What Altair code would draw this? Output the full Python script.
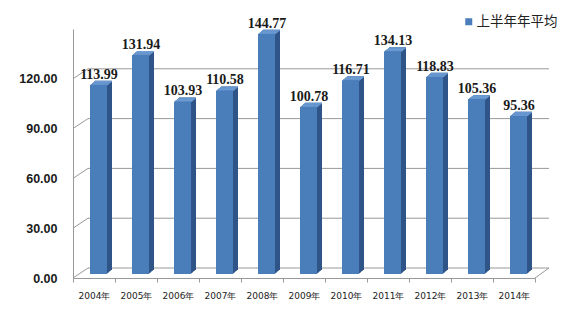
import altair as alt
import pandas as pd

years = ["2004年", "2005年", "2006年", "2007年", "2008年", "2009年",
         "2010年", "2011年", "2012年", "2013年", "2014年"]
values = [113.99, 131.94, 103.93, 110.58, 144.77, 100.78,
          116.71, 134.13, 118.83, 105.36, 95.36]
series_name = "上半年年平均"
y_ticks = [0, 30, 60, 90, 120]

df = pd.DataFrame({"year": years, "value": values, "series": series_name})
grid_df = pd.DataFrame({"value": y_ticks})
floor_df = pd.DataFrame({"value": [0]})

W, H = 462, 249
DEPTH_X, DEPTH_Y = 15, -10
BAR_DX, BAR_DY = 4.5, -4
BAR_W = 17
STEPS = 5
STEP_Y = 0.8

FRONT = "#4A7EBB"
SIDE = "#2F5488"
TOP = "#6D9CD4"
GRID = "#999999"

x_enc = alt.X(
    "year:N", sort=years,
    scale=alt.Scale(paddingInner=0, paddingOuter=0),
    axis=alt.Axis(title=None, labelAngle=0, tickBand="extent",
                  domainColor=GRID, tickColor=GRID, tickSize=4,
                  labelPadding=9, labelFont="DejaVu Sans",
                  labelFontSize=9, labelColor="#222222"),
)
y_scale = alt.Scale(domain=[0, 150], nice=False, zero=True)
y_axis = alt.Axis(title=None, values=y_ticks, format=".2f", grid=False,
                  domain=True, domainColor=GRID, ticks=False,
                  labelPadding=16, labelFont="Liberation Sans",
                  labelFontWeight="bold", labelFontSize=12.5,
                  labelColor="#1a1a1a")


def y_enc():
    return alt.Y("value:Q", scale=y_scale, axis=y_axis)


layers = []

# back wall gridlines
layers.append(
    alt.Chart(grid_df).mark_rule(color=GRID, strokeWidth=1,
                                 xOffset=DEPTH_X, x2Offset=DEPTH_X,
                                 yOffset=DEPTH_Y, y2Offset=DEPTH_Y)
    .encode(y=y_enc(), x=alt.value(0), x2=alt.value(W - DEPTH_X + 14))
)
# left wall connectors
layers.append(
    alt.Chart(grid_df).mark_rule(color=GRID, strokeWidth=1, y2Offset=DEPTH_Y)
    .encode(y=y_enc(), y2=alt.Y2("value:Q"), x=alt.value(0), x2=alt.value(DEPTH_X))
)
# right floor edge
layers.append(
    alt.Chart(floor_df).mark_rule(color=GRID, strokeWidth=1, y2Offset=DEPTH_Y)
    .encode(y=y_enc(), y2=alt.Y2("value:Q"), x=alt.value(W), x2=alt.value(W + 14))
)

# bar side (extrusion)
for k in range(STEPS, 0, -1):
    layers.append(
        alt.Chart(df).mark_bar(size=BAR_W, color=SIDE,
                               xOffset=BAR_DX + k, x2Offset=BAR_DX + k,
                               yOffset=BAR_DY - STEP_Y * k, y2Offset=BAR_DY - STEP_Y * k)
        .encode(x=x_enc, y=y_enc())
    )
# bar tops
for k in range(STEPS, 0, -1):
    layers.append(
        alt.Chart(df).mark_bar(size=BAR_W, color=TOP,
                               xOffset=BAR_DX + k, x2Offset=BAR_DX + k,
                               yOffset=BAR_DY - STEP_Y * k,
                               y2Offset=BAR_DY - STEP_Y * k + 1.2)
        .encode(x=x_enc, y=y_enc(), y2=alt.Y2("value:Q"))
    )
# bar front
layers.append(
    alt.Chart(df).mark_bar(size=BAR_W, xOffset=BAR_DX, x2Offset=BAR_DX,
                           yOffset=BAR_DY, y2Offset=BAR_DY)
    .encode(
        x=x_enc, y=y_enc(),
        color=alt.Color("series:N", scale=alt.Scale(range=[FRONT]),
                        legend=alt.Legend(title=None, orient="none",
                                          legendX=389, legendY=-14,
                                          symbolType="square", symbolSize=49,
                                          symbolStrokeWidth=0,
                                          labelFont="Noto Sans CJK SC",
                                          labelFontSize=13.5, labelColor="#222222",
                                          labelOffset=1, padding=0)),
    )
)
# value labels
layers.append(
    alt.Chart(df).mark_text(font="Liberation Serif", fontSize=14, fontWeight="bold",
                            color="#1a1a1a", baseline="alphabetic", dy=-10, dx=5)
    .encode(x=x_enc, y=y_enc(), text=alt.Text("value:Q", format=".2f"))
)

chart = alt.layer(*layers).properties(
    width=W, height=H,
    autosize=alt.AutoSizeParams(type="none"),
    padding={"left": 73, "top": 29, "right": 31, "bottom": 39},
    background="white",
).configure_view(stroke=None)

chart.save("out.html", embed_options={"renderer": "svg", "actions": False})
